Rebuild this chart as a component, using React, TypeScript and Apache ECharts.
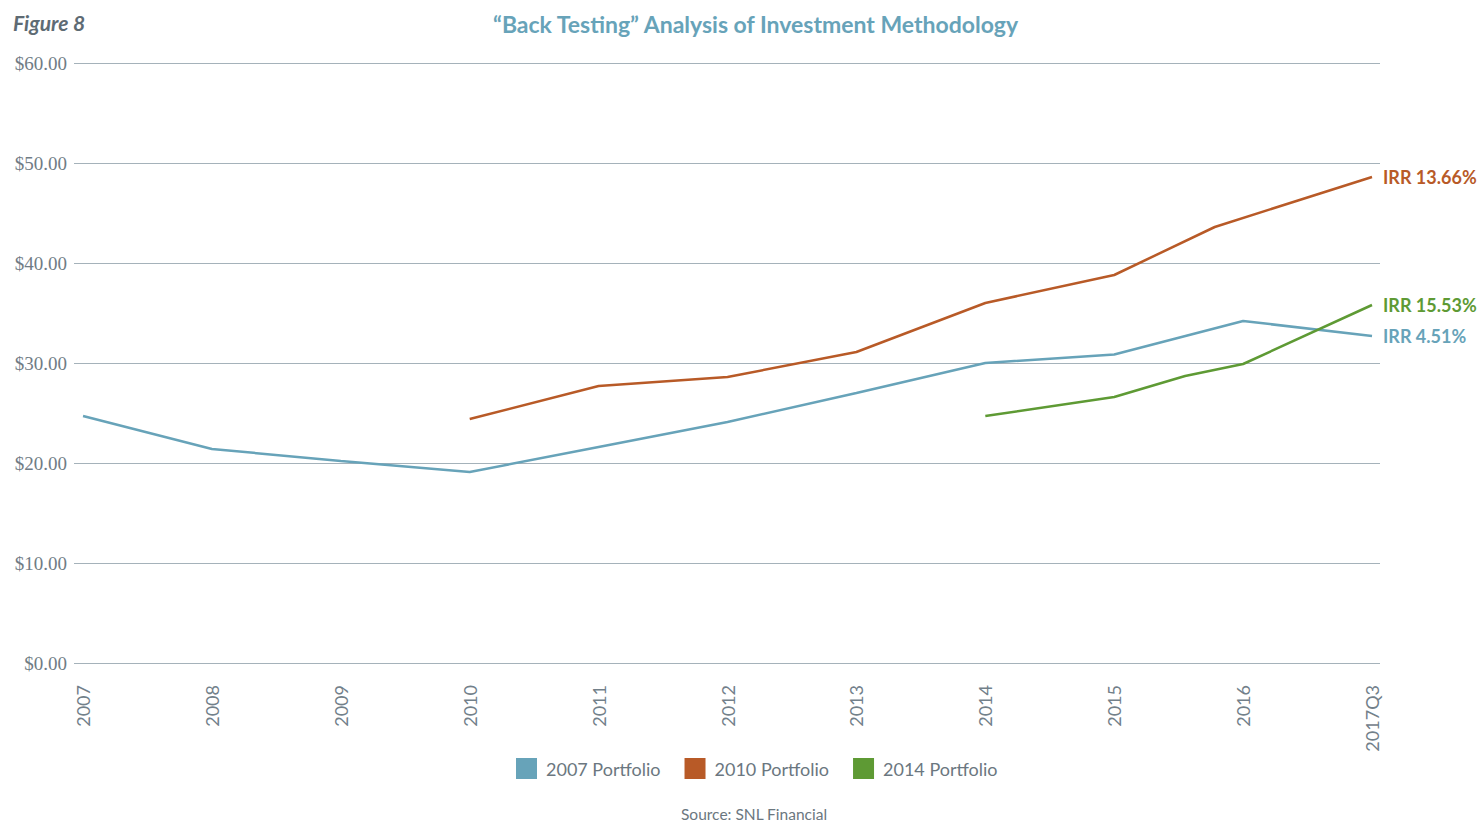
import React, { useEffect, useRef } from "react";
import * as echarts from "echarts";

const xLabels = ["2007", "2008", "2009", "2010", "2011", "2012", "2013", "2014", "2015", "2016", "2017Q3"];
const yTicks = [0, 10, 20, 30, 40, 50, 60];

// [category position, value]
const portfolio2007: [number, number][] = [
  [0, 24.7], [1, 21.4], [2, 20.2], [3, 19.1], [4, 21.6], [5, 24.1],
  [6, 27.0], [7, 30.0], [8, 30.85], [9, 34.2], [10, 32.7],
];
const portfolio2010: [number, number][] = [
  [3, 24.4], [4, 27.7], [5, 28.6], [6, 31.1], [7, 36.0], [8, 38.8],
  [8.78, 43.6], [10, 48.6],
];
const portfolio2014: [number, number][] = [
  [7, 24.7], [8, 26.6], [8.55, 28.7], [9, 29.9], [10, 35.8],
];
const seriesNames = ["2007 Portfolio", "2010 Portfolio", "2014 Portfolio"];
const irrLabels = ["IRR 4.51%", "IRR 13.66%", "IRR 15.53%"];
const colors = ["#67a3b9", "#b85a27", "#5e9a34"];

export default function App() {
  const ref = useRef<HTMLDivElement>(null);
  useEffect(() => {
    const chart = echarts.init(ref.current!, undefined, { renderer: "svg" });
    const datasets = [portfolio2007, portfolio2010, portfolio2014];
    chart.setOption({
      animation: false,
      color: colors,
      title: [
        {
          text: "\u201CBack Testing\u201D Analysis of Investment Methodology",
          left: 488,
          top: 7,
          textStyle: { fontFamily: "Lato", fontWeight: "bold", fontSize: 23, color: "#67a3b9" },
        },
        {
          text: "Figure 8",
          left: 8,
          top: 7,
          textStyle: { fontFamily: "Lato", fontWeight: "bold", fontStyle: "italic", fontSize: 21, color: "#5e6b74" },
        },
        {
          text: "Source: SNL Financial",
          left: 681,
          top: 806,
          padding: 0,
          textStyle: { fontFamily: "Lato", fontWeight: "normal", fontSize: 15.5, lineHeight: 15, color: "#6b7780" },
        },
      ],
      legend: {
        top: 753,
        left: 511,
        itemWidth: 21,
        itemHeight: 21,
        itemGap: 24,
        icon: "rect",
        textStyle: { fontFamily: "Lato", fontSize: 18, color: "#6b7780", padding: [0, 0, 0, 4] },
        data: seriesNames,
      },
      grid: { left: 74, right: 102, top: 63, bottom: 158, containLabel: false },
      xAxis: {
        type: "value",
        min: -0.07,
        max: 10.062,
        splitLine: { show: false },
        axisLine: { show: false },
        axisTick: { show: false },
        axisLabel: {
          customValues: xLabels.map((_, i) => i),
          formatter: (v: number) => xLabels[Math.round(v)] ?? "",
          rotate: 90,
          margin: 22,
          fontFamily: "Lato",
          fontSize: 18,
          color: "#72808a",
        },
      },
      yAxis: {
        type: "value",
        min: 0,
        max: 60,
        interval: 10,
        axisLine: { show: false },
        axisTick: { show: false },
        splitLine: { lineStyle: { color: "#a5b2ba", width: 1 } },
        axisLabel: {
          formatter: (v: number) => (yTicks.includes(v) ? "$" + v.toFixed(2) : ""),
          margin: 7,
          fontFamily: "Liberation Serif",
          fontSize: 19,
          color: "#707c85",
        },
      },
      series: datasets.map((d, i) => ({
        name: seriesNames[i],
        type: "line",
        data: d,
        showSymbol: false,
        symbol: "none",
        lineStyle: { width: 2.5, color: colors[i] },
        itemStyle: { color: colors[i] },
        endLabel: {
          show: true,
          formatter: irrLabels[i],
          distance: 11,
          fontFamily: "Lato",
          fontWeight: "bold",
          fontSize: 18,
          color: colors[i],
        },
      })),
    });
    return () => chart.dispose();
  }, []);
  return <div ref={ref} style={{ width: 1482, height: 821, position: "absolute", left: 0, top: 0 }} />;
}
